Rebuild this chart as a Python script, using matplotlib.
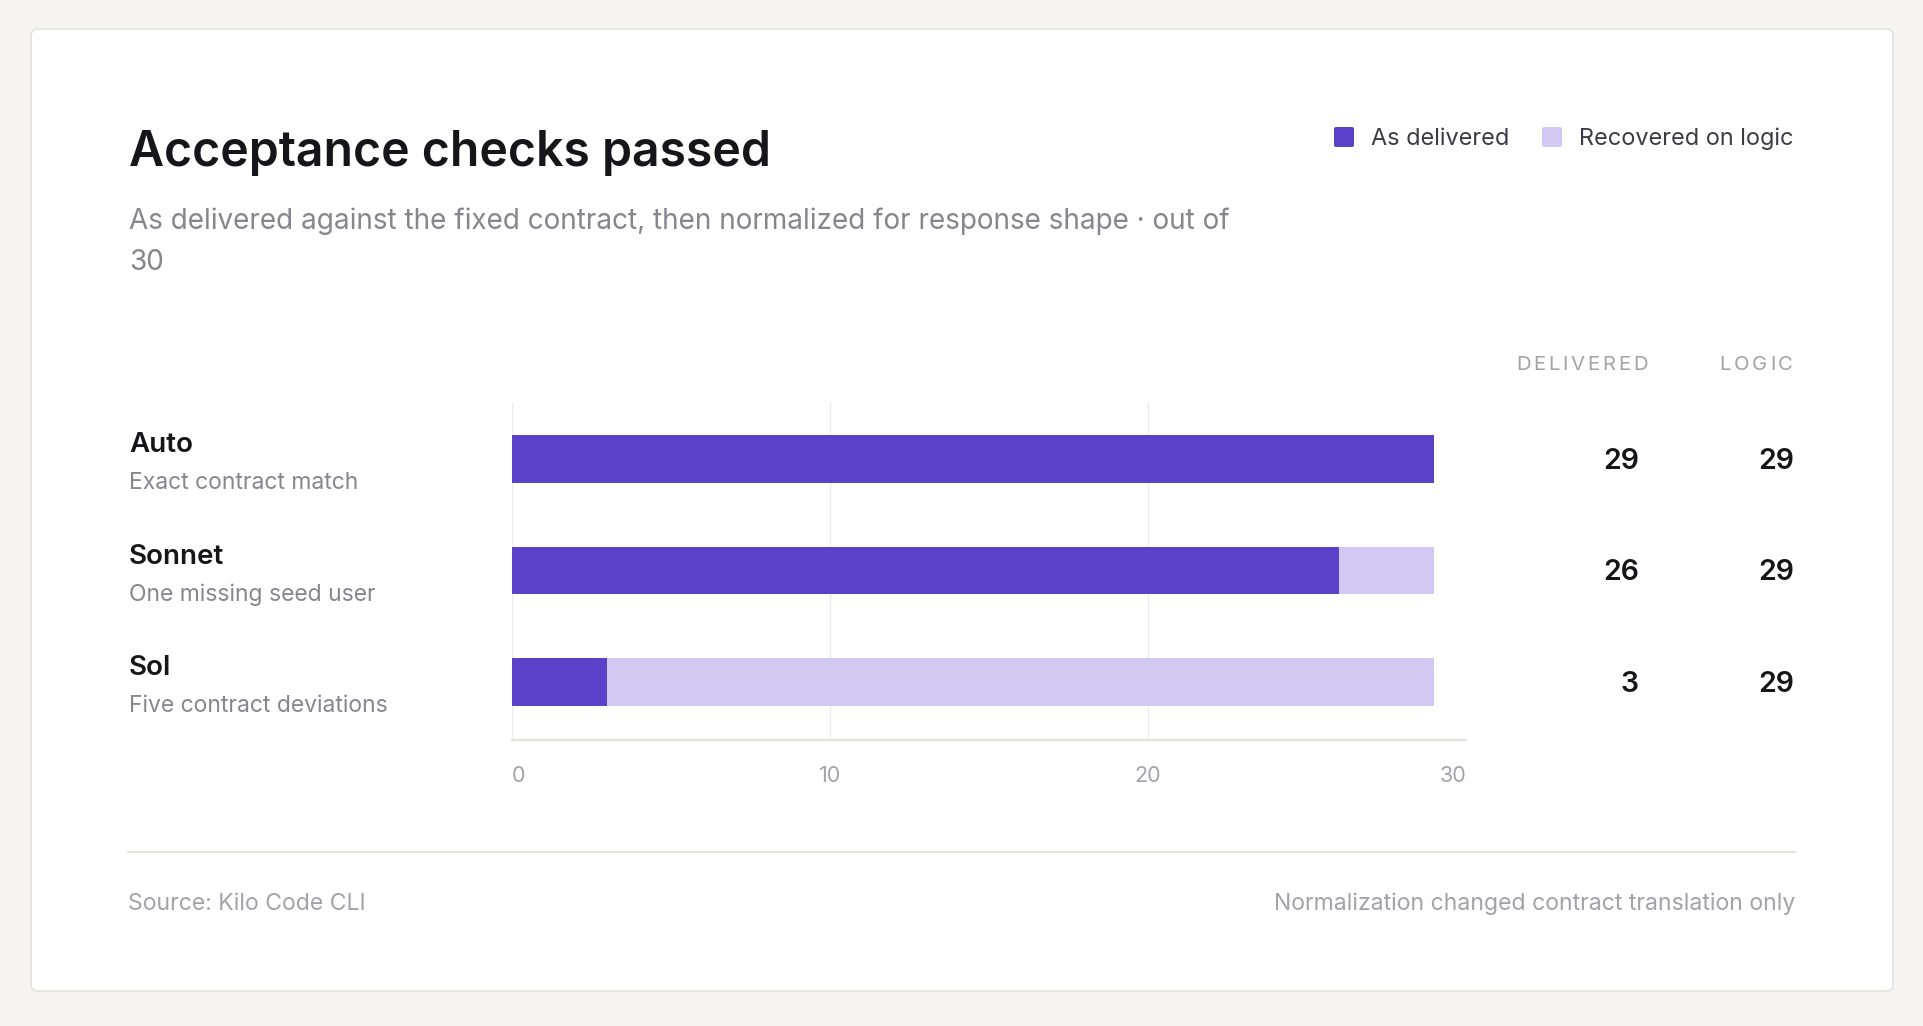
import matplotlib.pyplot as plt
import matplotlib.patches as mpatches
import matplotlib.transforms as mtransforms
import numpy as np

# data
models = ["Auto", "Sonnet", "Sol"]
notes = ["Exact contract match", "One missing seed user", "Five contract deviations"]
delivered = [29, 26, 3]
logic = [29, 29, 29]
x_ticks = [0, 10, 20, 30]

# colours
DARK = "#5941c9"
LIGHT = "#d2c9f2"
INK = "#16161a"
GREY = "#86868f"
PALE = "#a2a2aa"
LINE = "#e4e3dd"

W, H = 1924, 1026
plt.rcParams['font.family'] = ['Inter', 'DejaVu Sans']


def fx(x):
    return x / W


def fy(y):
    return 1 - y / H


fig = plt.figure(figsize=(W / 100, H / 100), dpi=100)
fig.patch.set_facecolor("#f5f4f0")

# card
card = mpatches.FancyBboxPatch((31, H - 991), 1862, 962,
                               boxstyle="round,pad=0,rounding_size=7",
                               transform=mtransforms.IdentityTransform(),
                               facecolor="white", edgecolor=LINE, linewidth=1.2,
                               zorder=-10)
fig.add_artist(card)

# title / subtitle
fig.text(fx(129), fy(166), "Acceptance checks passed", fontsize=34.7,
         fontweight='semibold', color=INK, va='baseline')
fig.text(fx(129), fy(229),
         "As delivered against the fixed contract, then normalized for response shape \u00b7 out of",
         fontsize=20.1, color=GREY, va='baseline')
fig.text(fx(129), fy(270), "30", fontsize=20.1, color=GREY, va='baseline')

# legend
for x0, col, lab in [(1334, DARK, "As delivered"), (1542, LIGHT, "Recovered on logic")]:
    fig.add_artist(mpatches.FancyBboxPatch((x0, H - 147), 20, 20,
                                           boxstyle="round,pad=0,rounding_size=2",
                                           transform=mtransforms.IdentityTransform(),
                                           facecolor=col, edgecolor='none'))
    fig.text(fx(x0 + 37), fy(145), lab, fontsize=16.9, color="#3b3b45", va='baseline')

# bars
ax = fig.add_axes([fx(512), fy(740), fx(1466) - fx(512), (740 - 402) / H])
ax.set_facecolor('none')
y = np.arange(len(models))
ax.barh(y, delivered, height=0.43, color=DARK, zorder=3)
ax.barh(y, np.array(logic) - np.array(delivered), left=delivered, height=0.43,
        color=LIGHT, zorder=3)
ax.set_xlim(0, 30)
ax.set_ylim(2 + 58 / 111.5, -57 / 111.5)
ax.set_yticks([])
ax.set_xticks(x_ticks)
ax.set_xticklabels([str(t) for t in x_ticks])
ax.tick_params(axis='x', length=0, pad=19, labelsize=15.5, labelcolor=PALE)
labs = ax.get_xticklabels()
labs[0].set_ha('left')
labs[-1].set_ha('right')
ax.grid(axis='x', color="#ebebeb", linewidth=1.0, zorder=0)
for s in ['top', 'left', 'right']:
    ax.spines[s].set_visible(False)
ax.spines['bottom'].set_color(LINE)
ax.spines['bottom'].set_linewidth(1.6)

# row labels and values, tied to bar rows
ytr = ('figure fraction', 'data')
for i in range(len(models)):
    ax.annotate(models[i], xy=(fx(129), y[i]), xycoords=ytr, xytext=(0, 7),
                textcoords='offset pixels', fontsize=20, fontweight='semibold',
                color=INK, va='baseline', ha='left', annotation_clip=False)
    ax.annotate(notes[i], xy=(fx(129), y[i]), xycoords=ytr, xytext=(0, -30),
                textcoords='offset pixels', fontsize=16.5, color=GREY,
                va='baseline', ha='left', annotation_clip=False)
    ax.annotate(str(delivered[i]), xy=(fx(1639), y[i]), xycoords=ytr, xytext=(0, -10),
                textcoords='offset pixels', fontsize=20.5, fontweight='semibold',
                color=INK, va='baseline', ha='right', annotation_clip=False)
    ax.annotate(str(logic[i]), xy=(fx(1794), y[i]), xycoords=ytr, xytext=(0, -10),
                textcoords='offset pixels', fontsize=20.5, fontweight='semibold',
                color=INK, va='baseline', ha='right', annotation_clip=False)


# letter-spaced column headers
def spaced(x_right, y_base, s, size, gap, color):
    r = fig.canvas.get_renderer()
    pre = [0.0]
    for k in range(1, len(s) + 1):
        t = fig.text(0, 0, s[:k], fontsize=size)
        pre.append(t.get_window_extent(r).width)
        t.remove()
    total = pre[-1] + gap * (len(s) - 1)
    x0 = x_right - total
    for k, ch in enumerate(s):
        fig.text(fx(x0 + pre[k] + gap * k), fy(y_base), ch, fontsize=size,
                 color=color, va='baseline', ha='left')


spaced(1648, 370, "DELIVERED", 14.6, 2.8, PALE)
spaced(1793, 370, "LOGIC", 14.6, 2.8, PALE)

# footer
fig.add_artist(plt.Line2D([fx(128), fx(1795)], [fy(852), fy(852)], color=LINE, linewidth=1.4))
fig.text(fx(128), fy(910), "Source: Kilo Code CLI", fontsize=16.6, color=PALE, va='baseline')
fig.text(fx(1795), fy(910), "Normalization changed contract translation only", fontsize=16.6,
         color=PALE, va='baseline', ha='right')

fig.savefig("out.png", dpi=100, facecolor=fig.get_facecolor())
